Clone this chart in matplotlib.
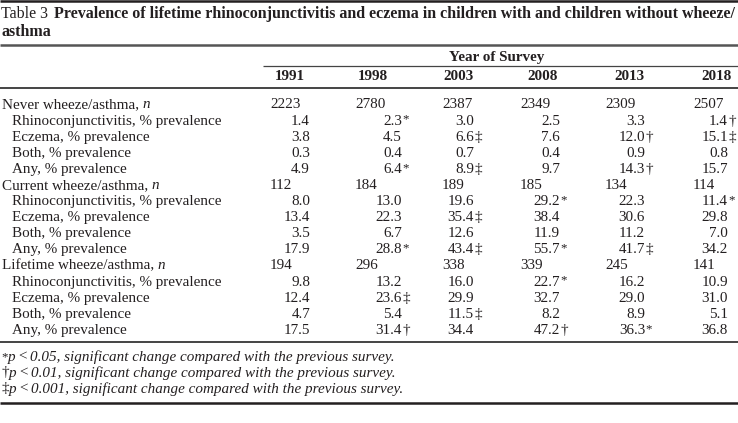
import matplotlib
matplotlib.use("Agg")
import matplotlib.pyplot as plt

# Table data
years = [1991, 1998, 2003, 2008, 2013, 2018]
groups = ["Never wheeze/asthma", "Current wheeze/asthma", "Lifetime wheeze/asthma"]
measures = ["Rhinoconjunctivitis", "Eczema", "Both", "Any"]

never_n = [2223, 2780, 2387, 2349, 2309, 2507]
never_rhino = ["1.4", "2.3*", "3.0", "2.5", "3.3", "1.4\u2020"]
never_eczema = ["3.8", "4.5", "6.6\u2021", "7.6", "12.0\u2020", "15.1\u2021"]
never_both = ["0.3", "0.4", "0.7", "0.4", "0.9", "0.8"]
never_any = ["4.9", "6.4*", "8.9\u2021", "9.7", "14.3\u2020", "15.7"]

current_n = [112, 184, 189, 185, 134, 114]
current_rhino = ["8.0", "13.0", "19.6", "29.2*", "22.3", "11.4*"]
current_eczema = ["13.4", "22.3", "35.4\u2021", "38.4", "30.6", "29.8"]
current_both = ["3.5", "6.7", "12.6", "11.9", "11.2", "7.0"]
current_any = ["17.9", "28.8*", "43.4\u2021", "55.7*", "41.7\u2021", "34.2"]

lifetime_n = [194, 296, 338, 339, 245, 141]
lifetime_rhino = ["9.8", "13.2", "16.0", "22.7*", "16.2", "10.9"]
lifetime_eczema = ["12.4", "23.6\u2021", "29.9", "32.7", "29.0", "31.0"]
lifetime_both = ["4.7", "5.4", "11.5\u2021", "8.2", "8.9", "5.1"]
lifetime_any = ["17.5", "31.4\u2020", "34.4", "47.2\u2020", "36.3*", "36.8"]

footnotes = [("*", "0.05"), ("\u2020", "0.01"), ("\u2021", "0.001")]

W, H = 738, 423
INK = "#231f20"
FONT = "Liberation Serif"
FS = 10.9

fig = plt.figure(figsize=(W / 100, H / 100), dpi=100)
ax = fig.add_axes([0, 0, 1, 1])
ax.set_xlim(0, W)
ax.set_ylim(H, 0)
ax.axis("off")
renderer = fig.canvas.get_renderer()


def txt(x, y, s, **kw):
    kw.setdefault("fontsize", FS)
    kw.setdefault("family", FONT)
    kw.setdefault("color", INK)
    kw.setdefault("va", "center")
    return ax.text(x, y, s, **kw)


def width(t):
    return t.get_window_extent(renderer).width


# rules
ax.plot([0, W], [1.2, 1.2], color=INK, lw=1.8, solid_capstyle="butt")
ax.plot([0, W], [45, 45], color="#555555", lw=1.8, solid_capstyle="butt")
ax.plot([263, W], [66, 66], color="#444444", lw=0.9, solid_capstyle="butt")
ax.plot([0, W], [88, 88], color="#444444", lw=1.4, solid_capstyle="butt")
ax.plot([0, W], [342, 342], color="#444444", lw=1.4, solid_capstyle="butt")
ax.plot([0, W], [403, 403], color=INK, lw=1.8, solid_capstyle="butt")

# title: size the bold part so that the first line fills the width
title1 = "Prevalence of lifetime rhinoconjunctivitis and eczema in children with and children without wheeze/"
t = txt(1, 14, "Table 3")
tb = txt(0, 14, title1, fontweight="bold")
tfs = FS
for _ in range(3):
    x0 = 1 + width(t) + 6
    tfs = tfs * (735 - x0) / width(tb)
    t.set_fontsize(tfs)
    tb.set_fontsize(tfs)
x0 = 1 + width(t) + 6
tb.set_x(x0)
txt(1, 32, "asthma", fontweight="bold", fontsize=tfs)

# header
txt(497, 57, "Year of Survey", ha="center", fontweight="bold")
col_center = [290, 373, 458, 543, 629, 716]
n_left = [270, 355, 442, 520, 605, 693]
dec_right = [310, 402, 474, 560, 645, 728]
for c, yr in zip(col_center, years):
    txt(c, 77, str(yr), ha="center", fontweight="bold")

# body
rows = []
for g, n, vals in [
    (groups[0], never_n, [never_rhino, never_eczema, never_both, never_any]),
    (groups[1], current_n, [current_rhino, current_eczema, current_both, current_any]),
    (groups[2], lifetime_n, [lifetime_rhino, lifetime_eczema, lifetime_both, lifetime_any]),
]:
    rows.append((g, True, [str(v) for v in n]))
    for m, v in zip(measures, vals):
        rows.append((m + ", % prevalence", False, v))

y = 105
for label, is_group, vals in rows:
    if is_group:
        t = txt(2, y, label + ",")
        txt(2 + width(t) + 3.5, y, "n", fontstyle="italic")
        for xl, v in zip(n_left, vals):
            txt(xl, y, v, ha="left")
    else:
        txt(12, y, label)
        for xr, v in zip(dec_right, vals):
            num = v.rstrip("*\u2020\u2021")
            mark = v[len(num):]
            txt(xr, y, num, ha="right")
            if mark:
                txt(xr + 0.3, y - (1.5 if mark == "*" else 0), mark, ha="left",
                    fontsize=FS * (0.85 if mark == "*" else 1))
    y += 16.1

# footnotes
fy = 357
for mark, p in footnotes:
    t = txt(1, fy, mark, fontsize=FS * (0.85 if mark == "*" else 1))
    x = 1 + width(t) + 0.5
    t = txt(x, fy, "p", fontstyle="italic")
    x += width(t) + 2
    t = txt(x, fy, "<", fontstyle="italic")
    x += width(t) + 2
    txt(x, fy, p + ", significant change compared with the previous survey.", fontstyle="italic")
    fy += 16

fig.savefig("out.png", dpi=100, facecolor="white")
